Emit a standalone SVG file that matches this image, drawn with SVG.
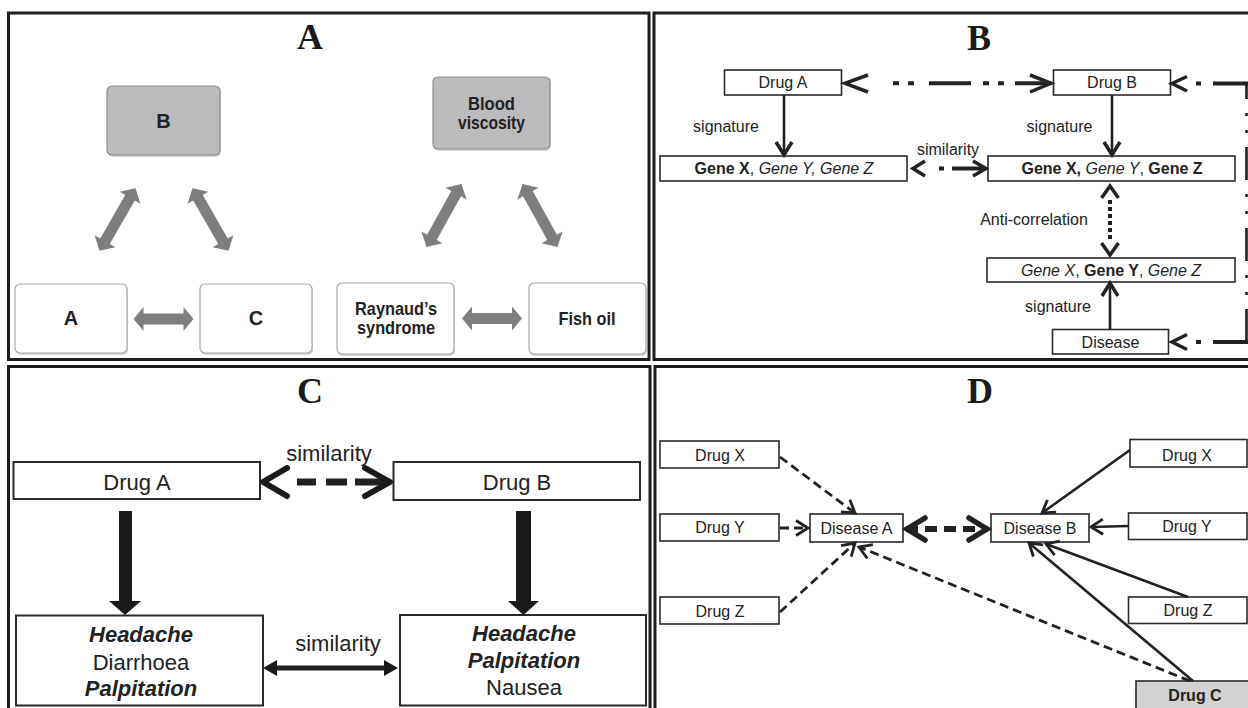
<svg xmlns="http://www.w3.org/2000/svg" width="1248" height="708" viewBox="0 0 1248 708">
<style>
.frame{fill:none;stroke:#1e1e1e;stroke-width:3}
.ttl{font-family:"Liberation Serif","Times New Roman",serif;font-weight:bold;font-size:36px;text-anchor:middle;fill:#1a1a1a}
.ta{font-family:"Liberation Sans",Arial,sans-serif;font-weight:bold;font-size:19px;text-anchor:middle;fill:#222}
.tl{font-size:20px}
.gbox{fill:#bbbbbe;stroke:#8e8e90;stroke-width:1.2}
.wbox{fill:#fff;stroke:#a8a8a8;stroke-width:1.2}
.shd{fill:#d6d6d6}
.garr{fill:#7e7e80}
.tb{font-family:"Liberation Sans",Arial,sans-serif;font-size:16px;text-anchor:middle;fill:#222}
.tc{font-family:"Liberation Sans",Arial,sans-serif;font-size:22px;text-anchor:middle;fill:#222}
.bx{fill:#fff;stroke:#2a2a2a;stroke-width:1.6}
.bxc{fill:#fff;stroke:#2a2a2a;stroke-width:2}
.b{font-weight:bold}
.i{font-style:italic}
.ln{fill:none;stroke:#222;stroke-linecap:butt}
.chev{fill:none;stroke:#222;stroke-width:3.5;stroke-linejoin:miter}
.dsh{fill:none;stroke:#222;stroke-width:2.8;stroke-dasharray:9 5}
.sol{fill:none;stroke:#222;stroke-width:2.6}
</style>
<defs>
<path id="dblA" d="M-36,0 L-25,-12 L-25,-5.5 L25,-5.5 L25,-12 L36,0 L25,12 L25,5.5 L-25,5.5 L-25,12 Z"/>
<path id="dblH" d="M-30,0 L-20,-12 L-20,-5.5 L20,-5.5 L20,-12 L30,0 L20,12 L20,5.5 L-20,5.5 L-20,12 Z"/>
<marker id="mD" markerUnits="userSpaceOnUse" orient="auto-start-reverse" refX="0" refY="0" markerWidth="30" markerHeight="30" overflow="visible">
<path d="M-12,-7.5 L0,0 L-12,7.5" fill="none" stroke="#222" stroke-width="2.8"/>
</marker>
<marker id="mBig" markerUnits="userSpaceOnUse" orient="auto-start-reverse" refX="0" refY="0" markerWidth="30" markerHeight="30" overflow="visible">
<path d="M-19,-11 L-1,0 L-19,11" fill="none" stroke="#222" stroke-width="5.5" stroke-linecap="round"/>
</marker>
</defs>

<!-- panel frames -->
<g id="frames">
<rect class="frame" x="8.5" y="13" width="640.5" height="346.5"/>
<rect class="frame" x="654" y="13" width="600" height="346.5"/>
<rect class="frame" x="8.5" y="366.5" width="641.5" height="350"/>
<rect class="frame" x="655" y="366.5" width="600" height="350"/>
</g>

<!-- titles -->
<text class="ttl" x="310" y="49">A</text>
<text class="ttl" x="979" y="50">B</text>
<text class="ttl" x="310" y="403">C</text>
<text class="ttl" x="980" y="403">D</text>

<!-- Panel A nodes -->
<g id="a-B"><rect class="shd" x="108" y="88" width="113" height="69" rx="5"/><rect class="gbox" x="107" y="86" width="113" height="69" rx="5"/><text class="ta tl" x="163.5" y="128">B</text></g>
<g id="a-A"><rect class="shd" x="16" y="286" width="112" height="69" rx="5"/><rect class="wbox" x="15" y="284" width="112" height="69" rx="5"/><text class="ta tl" x="71" y="325">A</text></g>
<g id="a-C"><rect class="shd" x="201" y="286" width="112" height="69" rx="5"/><rect class="wbox" x="200" y="284" width="112" height="69" rx="5"/><text class="ta tl" x="256" y="325">C</text></g>
<g id="a-blood"><rect class="shd" x="434" y="79" width="117" height="72" rx="5"/><rect class="gbox" x="433" y="77" width="117" height="72" rx="5"/><text class="ta" x="491.5" y="110" textLength="47" lengthAdjust="spacingAndGlyphs">Blood</text><text class="ta" x="491.5" y="129" textLength="67" lengthAdjust="spacingAndGlyphs">viscosity</text></g>
<g id="a-raynaud"><rect class="shd" x="338" y="285" width="117" height="71" rx="5"/><rect class="wbox" x="337" y="283" width="117" height="71" rx="5"/><text class="ta" x="396" y="315" textLength="82" lengthAdjust="spacingAndGlyphs">Raynaud’s</text><text class="ta" x="396" y="334" textLength="78" lengthAdjust="spacingAndGlyphs">syndrome</text></g>
<g id="a-fish"><rect class="shd" x="530" y="285" width="117" height="71" rx="5"/><rect class="wbox" x="529" y="283" width="117" height="71" rx="5"/><text class="ta" x="587" y="325" textLength="57" lengthAdjust="spacingAndGlyphs">Fish oil</text></g>

<!-- Panel B nodes -->
<g id="b-drugA"><rect class="bx" x="724.5" y="70" width="117" height="25"/><text class="tb" x="783" y="88">Drug A</text></g>
<g id="b-drugB"><rect class="bx" x="1053.5" y="70" width="117" height="25"/><text class="tb" x="1112" y="88">Drug B</text></g>
<g id="b-geneL"><rect class="bx" x="660" y="156" width="247" height="25"/><text class="tb" x="784" y="174"><tspan class="b">Gene X</tspan>, <tspan class="i">Gene Y, Gene Z</tspan></text></g>
<g id="b-geneR"><rect class="bx" x="988" y="156" width="247" height="25"/><text class="tb" x="1112" y="174"><tspan class="b">Gene X,</tspan> <tspan class="i">Gene Y</tspan>, <tspan class="b">Gene Z</tspan></text></g>
<g id="b-geneD"><rect class="bx" x="987" y="258" width="248" height="24"/><text class="tb" x="1111" y="275.5"><tspan class="i">Gene X</tspan>, <tspan class="b">Gene Y</tspan>, <tspan class="i">Gene Z</tspan></text></g>
<g id="b-disease"><rect class="bx" x="1052.5" y="329.5" width="116" height="24.5"/><text class="tb" x="1110.5" y="347.5">Disease</text></g>

<!-- Panel C nodes -->
<g id="c-drugA"><rect class="bxc" x="13.5" y="462" width="246.5" height="37"/><text class="tc" x="137" y="490">Drug A</text></g>
<g id="c-drugB"><rect class="bxc" x="393.5" y="462" width="246.5" height="38"/><text class="tc" x="517" y="490">Drug B</text></g>
<g id="c-symA"><rect class="bxc" x="16" y="615.5" width="247" height="90"/><text class="tc b i" x="141" y="642">Headache</text><text class="tc" x="141" y="669.5">Diarrhoea</text><text class="tc b i" x="141" y="696">Palpitation</text></g>
<g id="c-symB"><rect class="bxc" x="400" y="615" width="246" height="90.5"/><text class="tc b i" x="524" y="641">Headache</text><text class="tc b i" x="524" y="668">Palpitation</text><text class="tc" x="524" y="695">Nausea</text></g>

<!-- Panel D nodes -->
<g id="d-drugX1"><rect class="bx" x="660" y="441" width="119" height="27"/><text class="tb" x="720" y="461">Drug X</text></g>
<g id="d-drugY1"><rect class="bx" x="660" y="514" width="119" height="27"/><text class="tb" x="720" y="533">Drug Y</text></g>
<g id="d-drugZ1"><rect class="bx" x="660" y="597" width="119" height="27"/><text class="tb" x="720" y="616.5">Drug Z</text></g>
<g id="d-disA"><rect class="bx" x="810" y="514" width="93" height="28"/><text class="tb" x="856.5" y="534">Disease A</text></g>
<g id="d-disB"><rect class="bx" x="991" y="514" width="98" height="28"/><text class="tb" x="1040" y="534">Disease B</text></g>
<g id="d-drugX2"><rect class="bx" x="1130" y="439.5" width="117" height="27.5"/><text class="tb" x="1187" y="460.5">Drug X</text></g>
<g id="d-drugY2"><rect class="bx" x="1128.5" y="513" width="118.5" height="26.5"/><text class="tb" x="1187" y="532">Drug Y</text></g>
<g id="d-drugZ2"><rect class="bx" x="1128.5" y="597" width="118.5" height="26.5"/><text class="tb" x="1188" y="616">Drug Z</text></g>
<g id="d-drugC"><rect x="1136" y="681" width="115" height="30" fill="#d2d2d2" stroke="#2a2a2a" stroke-width="1.6"/><text class="tb b" x="1195" y="701">Drug C</text></g>

<!-- connectors -->
<g id="connectors">
<!-- Panel A gray double arrows -->
<use href="#dblA" class="garr" transform="translate(117.5,219.5) rotate(-60)"/>
<use href="#dblA" class="garr" transform="translate(210.5,219.5) rotate(60)"/>
<use href="#dblH" class="garr" transform="translate(163.5,319)"/>
<use href="#dblA" class="garr" transform="translate(444,215.5) rotate(-61)"/>
<use href="#dblA" class="garr" transform="translate(540,215.5) rotate(61)"/>
<use href="#dblH" class="garr" transform="translate(492,318.5)"/>

<!-- Panel B -->
<path class="chev" d="M868,75 L845,83.3 L868,92"/>
<path class="ln" stroke-width="4" d="M893,83.3 H899 M908,83.3 H914 M929,83.3 H971 M983,83.3 H989 M998,83.3 H1004 M1015,83.3 H1048"/>
<path class="chev" d="M1030,75 L1051,83.3 L1030,92"/>
<path class="ln" stroke-width="2.6" d="M784,95 V154"/>
<path class="chev" stroke-width="3" d="M776,142 L784,155 L792,142"/>
<path class="ln" stroke-width="2.6" d="M1112,95 V154"/>
<path class="chev" stroke-width="3" d="M1104,142 L1112,155 L1120,142"/>
<text class="tb" x="726" y="132">signature</text>
<text class="tb" x="1059.5" y="132">signature</text>
<path class="chev" d="M925,161 L913,168.5 L925,176"/>
<path class="ln" stroke-width="4" d="M939,168.5 H944 M952,168.5 H984"/>
<path class="chev" d="M973,161 L986,168.5 L973,176"/>
<text class="tb" x="948" y="155">similarity</text>
<path class="chev" d="M1101.5,198 L1110,186 L1118.5,198"/>
<path class="ln" stroke-width="4" stroke-dasharray="4 3" d="M1110,200 V242"/>
<path class="chev" d="M1101.5,243 L1110,255 L1118.5,243"/>
<text class="tb" x="1034" y="225">Anti-correlation</text>
<path class="ln" stroke-width="2.6" d="M1110,329 V284"/>
<path class="chev" stroke-width="3" d="M1102,296 L1110,283 L1118,296"/>
<text class="tb" x="1058" y="311.5">signature</text>
<path class="chev" d="M1187,76.5 L1172,83.5 L1187,91"/>
<path class="ln" stroke-width="4" d="M1196,83.5 H1201 M1213,83.5 H1248"/>
<path class="chev" d="M1187,334.5 L1172,342 L1187,349.5"/>
<path class="ln" stroke-width="4" d="M1196,342 H1201 M1213,342 H1248"/>
<path class="ln" stroke-width="2.6" stroke-dasharray="33 14 3 14 3 14" d="M1246.5,342 V84"/>

<!-- Panel C -->
<path fill="none" stroke="#1a1a1a" stroke-width="6" stroke-linecap="round" stroke-linejoin="round" d="M287,468 L263,482 L287,496"/>
<path class="ln" stroke-width="7" d="M297,482 H316 M326,482 H347 M355,482 H388"/>
<path fill="none" stroke="#1a1a1a" stroke-width="6" stroke-linecap="round" stroke-linejoin="round" d="M365,468 L390,482 L365,496"/>
<text class="tc" x="329" y="461">similarity</text>
<path fill="#1a1a1a" d="M119,511 H132 V601 H141 L125,615 L109,601 H119 Z"/>
<path fill="#1a1a1a" d="M516,511 H531 V601 H539 L523.5,615 L508,601 H516 Z"/>
<path class="ln" stroke-width="5" d="M272,668 H389"/>
<path fill="#1a1a1a" d="M263,668 L277,660 L277,676 Z M398,668 L384,660 L384,676 Z"/>
<text class="tc" x="338" y="651">similarity</text>

<!-- Panel D -->
<path class="dsh" marker-end="url(#mD)" d="M780,457 L855,513"/>
<path class="dsh" marker-end="url(#mD)" d="M780,528 L808,528"/>
<path class="dsh" marker-end="url(#mD)" d="M780,612 L855,543"/>
<path class="dsh" marker-end="url(#mD)" d="M1190,681 L859,547"/>
<path fill="none" stroke="#222" stroke-width="6" stroke-dasharray="12 7" marker-start="url(#mBig)" marker-end="url(#mBig)" d="M906,529 L988,529"/>
<path class="sol" marker-end="url(#mD)" d="M1130,450 L1042,513"/>
<path class="sol" marker-end="url(#mD)" d="M1128,526 L1091,527"/>
<path class="sol" marker-end="url(#mD)" d="M1188,597 L1046,544"/>
<path class="sol" marker-end="url(#mD)" d="M1193,681 L1029,543"/>
</g>
</svg>
